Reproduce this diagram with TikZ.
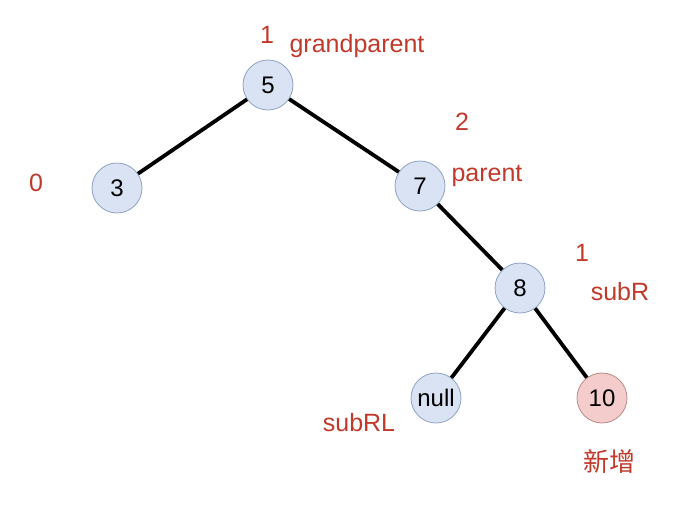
\documentclass[tikz,border=0pt]{standalone}
\usepackage{fontspec}
\setmainfont{Liberation Sans}
\newfontfamily\cjkfont{Noto Sans CJK SC}
\usepackage{tikz}
\usetikzlibrary{positioning}
\definecolor{NodeBlue}{HTML}{DAE3F3}
\definecolor{NodeEdge}{HTML}{8EA3C2}
\definecolor{NewPink}{HTML}{F4CCCC}
\definecolor{NewEdge}{HTML}{B98A88}
\definecolor{NoteRed}{HTML}{C0392B}

\begin{document}
\begin{tikzpicture}[
    x=1pt, y=-1pt,
    treenode/.style={
      circle,
      draw=NodeEdge,
      fill=#1,
      line width=0.8pt,
      minimum size=50pt,
      inner sep=0pt,
      font=\fontsize{24}{28}\selectfont
    },
    treenode/.default=NodeBlue,
    note/.style={
      text=NoteRed,
      inner sep=0pt,
      font=\fontsize{25}{30}\selectfont
    },
    branch/.style={
      line width=3.8pt,
      color=black
    }
  ]
  \useasboundingbox (0,0) rectangle (683,509);

  \node[treenode]         (n5)   at (268,85)  {5};
  \node[treenode]         (n3)   at (117,188) {3};
  \node[treenode]         (n7)   at (420,186) {7};
  \node[treenode]         (n8)   at (520,288) {8};
  \node[treenode]         (null) at (436,398) {null};
  \node[treenode=NewPink, draw=NewEdge] (n10) at (602,398) {10};

  \node[note] (h5)    at (267,35)  {1};
  \node[note] (gp)    at (357,46)  {grandparent};
  \node[note] (h7)    at (462,122) {2};
  \node[note] (par)   at (487,176) {parent};
  \node[note] (h3)    at (36,183)  {0};
  \node[note] (h8)    at (582,253) {1};
  \node[note] (subr)  at (620,292) {subR};
  \node[note] (subrl) at (359,423) {subRL};
  \node[note] (new)   at (609,462) {\cjkfont\fontsize{26}{30}\selectfont 新增};

  \draw[branch] (n5) -- (n3);
  \draw[branch] (n5) -- (n7);
  \draw[branch] (n7) -- (n8);
  \draw[branch] (n8) -- (null);
  \draw[branch] (n8) -- (n10);

\end{tikzpicture}
\end{document}
